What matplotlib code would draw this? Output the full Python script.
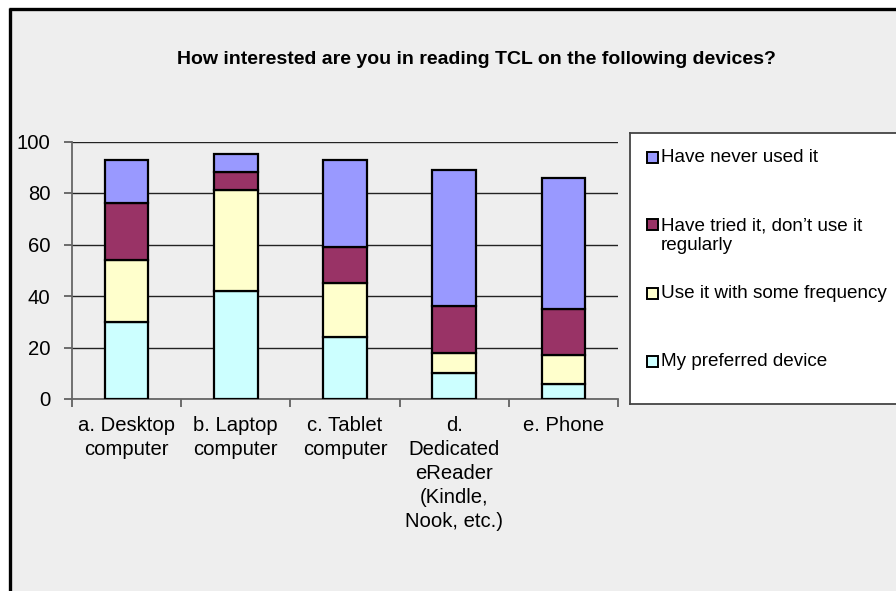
import matplotlib
matplotlib.use("Agg")
import matplotlib.pyplot as plt
from matplotlib.patches import Rectangle
from matplotlib.lines import Line2D
import numpy as np

plt.rcParams['font.family'] = ['Liberation Sans', 'DejaVu Sans']

title = "How interested are you in reading TCL on the following devices?"
categories = ["a. Desktop\ncomputer", "b. Laptop\ncomputer", "c. Tablet\ncomputer",
              "d.\nDedicated\neReader\n(Kindle,\nNook, etc.)", "e. Phone"]
series_names = ["My preferred device", "Use it with some frequency",
                "Have tried it, don\u2019t use it\nregularly", "Have never used it"]
preferred = [30, 42, 24, 10, 6]
frequency = [24, 39, 21, 8, 11]
tried = [22, 7, 14, 18, 18]
never = [17, 7, 34, 53, 51]
colors = ["#CCFFFF", "#FFFFCC", "#993366", "#9999FF"]
yticks = [0, 20, 40, 60, 80, 100]

W, H = 896, 591
fig = plt.figure(figsize=(W / 100, H / 100), dpi=100)
fig.patch.set_facecolor("white")

def fx(px):
    return px / W

def fy(py):
    return 1 - py / H

# outer chart frame (gray fill, thick black border on left/top)
fig.patches.append(Rectangle((fx(10), 0), 1.2, fy(8.5), transform=fig.transFigure,
                             facecolor="#EEEEEE", edgecolor="none", zorder=-10))
fig.lines.append(Line2D([fx(10), fx(10)], [fy(7.5), 0], transform=fig.transFigure,
                        color="black", lw=2.4, zorder=-5, solid_capstyle="butt"))
fig.lines.append(Line2D([fx(9), 1.0], [fy(8.5), fy(8.5)], transform=fig.transFigure,
                        color="black", lw=2.4, zorder=-5, solid_capstyle="butt"))

fs = 14.6
fig.text(0.5 * (fx(176) + fx(776)), fy(59), title, ha="center", va="center",
         fontsize=14.0, fontweight="bold")

# main axes
ax = fig.add_axes([fx(72), fy(399), fx(618) - fx(72), fy(141.5) - fy(399)])
ax.set_facecolor("#EEEEEE")
x = np.arange(len(categories))
data = [preferred, frequency, tried, never]
bottom = np.zeros(len(categories))
for vals, c in zip(data, colors):
    ax.bar(x, vals, width=0.4, bottom=bottom, color=c, edgecolor="black",
           linewidth=1.6, zorder=3)
    bottom += np.array(vals)

ax.set_xlim(-0.5, len(categories) - 0.5)
ax.set_ylim(0, 100)
ax.set_yticks(yticks)
ax.set_yticklabels([str(v) for v in yticks], fontsize=fs)
ax.set_xticks(x)
ax.set_xticklabels(categories, fontsize=fs, linespacing=1.33)
ax.set_xticks(np.arange(-0.5, len(categories)), minor=True)
ax.tick_params(axis="x", which="major", length=0, pad=12.5)
ax.tick_params(axis="x", which="minor", length=6, direction="out", color="#555555", width=1.2)
ax.tick_params(axis="y", length=6, direction="out", color="#555555", width=1.2, pad=9.5)
ax.yaxis.grid(True, color="#222222", lw=1.0, zorder=1)
ax.set_axisbelow(True)
for s in ["top", "right"]:
    ax.spines[s].set_visible(False)
for s in ["left", "bottom"]:
    ax.spines[s].set_color("#666666")
    ax.spines[s].set_linewidth(1.3)

# legend box
lax = fig.add_axes([fx(630), fy(404), fx(1000) - fx(630), fy(133) - fy(404)])
lax.set_facecolor("white")
lax.set_xlim(630, 1000)
lax.set_ylim(404, 133)
lax.set_xticks([])
lax.set_yticks([])
for s in lax.spines.values():
    s.set_color("#444444")
    s.set_linewidth(1.3)
leg_y = [361, 293, 236, 157]
for name, c, yy in zip(series_names, colors, leg_y):
    sq_y = yy if "\n" not in name else yy - 11.5
    lax.add_patch(Rectangle((646.5, sq_y - 5.5), 11, 11,
                            facecolor=c, edgecolor="black", lw=1.4))
    lax.text(661, yy, name, fontsize=13.6, va="center", ha="left", linespacing=1.2)

fig.savefig("out.png", dpi=100)
